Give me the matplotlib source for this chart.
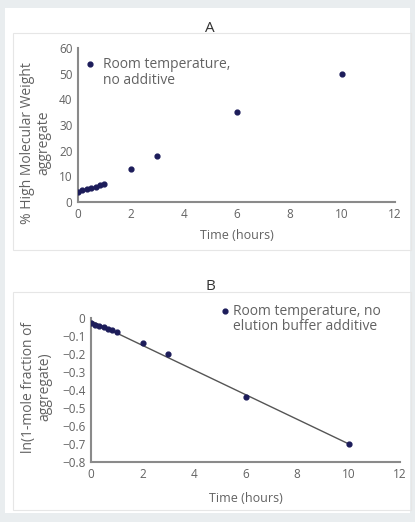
import numpy as np
import matplotlib.pyplot as plt
from matplotlib.patches import Rectangle

# panel A data: % HMW aggregate vs time
time_a = [0, 0.17, 0.33, 0.5, 0.67, 0.83, 1, 2, 3, 6, 10]
hmw_a = [4, 4.5, 5, 5.5, 6, 6.5, 7, 13, 18, 35, 50]

# panel B data: ln(1 - mole fraction of aggregate) vs time
time_b = [0, 0.17, 0.33, 0.5, 0.67, 0.83, 1, 2, 3, 6, 10]
lnfrac_b = [-0.03, -0.04, -0.045, -0.05, -0.06, -0.065, -0.075, -0.14, -0.2, -0.44, -0.7]

legend_a = ['Room temperature,', 'no additive']
legend_b = ['Room temperature, no', 'elution buffer additive']

W, H = 415, 522
col_txt = '#626262'
col_ax = '#8a8a8a'
col_pt = '#1c1c5a'

plt.rcParams['font.family'] = ['Open Sans', 'DejaVu Sans']

fig = plt.figure(figsize=(W/100, H/100), dpi=100)
fig.patch.set_facecolor('#e9edef')

def fx(px): return px / W
def fy(py): return 1 - py / H

# white page and panel frames (behind the axes)
fig.patches.append(Rectangle((fx(5), fy(513)), fx(405), 505/H, transform=fig.transFigure,
                             facecolor='white', edgecolor='none', zorder=-2))
for top, bot in [(33, 250), (292, 510)]:
    fig.patches.append(Rectangle((fx(13), fy(bot)), fx(398), (bot-top)/H, transform=fig.transFigure,
                                 facecolor='none', edgecolor='#e6e6e6', lw=0.8, zorder=-1))

def style(ax):
    ax.set_facecolor('none')
    for s in ['top', 'right']:
        ax.spines[s].set_visible(False)
    for s in ['left', 'bottom']:
        ax.spines[s].set_color(col_ax)
        ax.spines[s].set_linewidth(1.5)
    ax.tick_params(length=0, labelsize=8.5, colors=col_txt, pad=4)
    ax.set_xlim(0, 12)
    ax.set_xticks(range(0, 13, 2))

# panel A
axA = fig.add_axes([fx(78), fy(202), fx(395-78), (202-48)/H])
style(axA)
axA.scatter(time_a, hmw_a, s=12, color=col_pt, zorder=3, label=legend_a[0])
axA.set_ylim(0, 60)
axA.set_yticks(range(0, 61, 10))
axA.set_xlabel('Time (hours)', fontsize=9, color=col_txt, labelpad=6)
fig.text(fx(36), fy(143), '% High Molecular Weight\naggregate', rotation=90, ha='center', va='center',
         fontsize=10, color=col_txt, linespacing=1.15)
axA.legend(loc='upper left', bbox_to_anchor=(fx(86), fy(57)), bbox_transform=fig.transFigure,
           frameon=False, fontsize=10, labelcolor=col_txt, handlelength=0.6, handletextpad=0.63,
           borderaxespad=0, borderpad=0, scatterpoints=1)
fig.text(fx(103), fy(81), legend_a[1], ha='left', va='center', fontsize=10, color=col_txt)
fig.text(fx(210), fy(28), 'A', ha='center', va='center', fontsize=11, color='#333333')

# panel B
axB = fig.add_axes([fx(91), fy(462), fx(400-91), (462-318)/H])
style(axB)
axB.scatter(time_b, lnfrac_b, s=12, color=col_pt, zorder=3, label=legend_b[0])
k, b0 = np.polyfit(time_b, lnfrac_b, 1)
xl = np.array([0, 10])
axB.plot(xl, k*xl + b0, color='#555555', lw=1.0, zorder=2)
axB.set_ylim(-0.8, 0)
axB.set_yticks(np.arange(-0.8, 0.01, 0.1))
axB.set_yticklabels(['\u22120.8', '\u22120.7', '\u22120.6', '\u22120.5', '\u22120.4',
                     '\u22120.3', '\u22120.2', '\u22120.1', '0'])
axB.set_xlabel('Time (hours)', fontsize=9, color=col_txt, labelpad=8)
fig.text(fx(37), fy(387), 'ln(1-mole fraction of\naggregate)', rotation=90, ha='center', va='center',
         fontsize=10, color=col_txt, linespacing=1.15)
axB.legend(loc='upper left', bbox_to_anchor=(fx(221), fy(304)), bbox_transform=fig.transFigure,
           frameon=False, fontsize=10, labelcolor=col_txt, handlelength=0.6, handletextpad=0.27,
           borderaxespad=0, borderpad=0, scatterpoints=1)
fig.text(fx(233), fy(327), legend_b[1], ha='left', va='center', fontsize=10, color=col_txt)
fig.text(fx(210), fy(287), 'B', ha='center', va='center', fontsize=11, color='#333333')

fig.savefig('out.png', dpi=100, facecolor=fig.get_facecolor())
